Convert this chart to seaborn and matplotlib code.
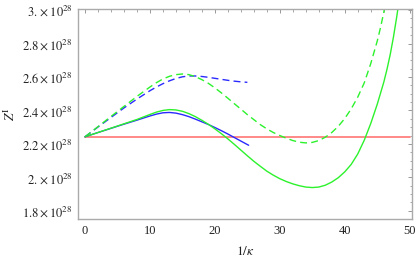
import numpy as np
import pandas as pd
import matplotlib
matplotlib.use("Agg")
import matplotlib.pyplot as plt
from matplotlib.ticker import MultipleLocator, FuncFormatter
import seaborn as sns

SCALE = 1e28

# Green solid
gs_x = [0, 2, 4, 6, 8, 10, 11, 12, 13, 14, 15, 16, 17, 18, 19, 20, 21, 22, 23, 24,
        25, 26, 27, 28, 29, 30, 31, 32, 33, 34, 35, 36, 37, 38, 39, 40, 41, 42, 43,
        44, 45, 46, 46.5, 47, 47.5, 48, 48.3]
gs_y = [2.2425, 2.268, 2.294, 2.320, 2.346, 2.376, 2.390, 2.400, 2.405, 2.403, 2.395,
        2.381, 2.363, 2.341, 2.317, 2.290, 2.261, 2.230, 2.197, 2.163,
        2.129, 2.096, 2.066, 2.037, 2.013, 1.992, 1.975, 1.961, 1.950, 1.942, 1.939,
        1.942, 1.953, 1.972, 1.998, 2.033, 2.078, 2.140, 2.222, 2.322, 2.437, 2.568,
        2.646, 2.735, 2.840, 2.960, 3.040]

# Green dashed
gd_x = [0, 2, 4, 6, 8, 10, 11, 12, 13, 14, 15, 16, 17, 18, 19, 20, 21, 22, 23, 24,
        25, 26, 27, 28, 29, 30, 31, 32, 33, 34, 35, 36, 37, 38, 39, 40, 41, 42, 43,
        44, 45, 45.5, 46, 46.2]
gd_y = [2.2425, 2.303, 2.364, 2.424, 2.484, 2.540, 2.566, 2.588, 2.604, 2.614, 2.618,
        2.614, 2.602, 2.584, 2.562, 2.535, 2.505, 2.473, 2.440, 2.408, 2.375, 2.345,
        2.315, 2.290, 2.268, 2.250, 2.234, 2.220, 2.210, 2.206, 2.209, 2.220, 2.240,
        2.268, 2.305, 2.352, 2.410, 2.480, 2.565, 2.680, 2.815, 2.895, 2.985, 3.030]

# Blue solid
bs_x = [0, 2, 4, 6, 8, 10, 11, 12, 13, 14, 15, 16, 17, 18, 19, 20, 21, 22, 23, 24, 25, 25.2]
bs_y = [2.2425, 2.268, 2.293, 2.318, 2.342, 2.367, 2.378, 2.386, 2.388, 2.384, 2.375,
        2.363, 2.348, 2.332, 2.316, 2.298, 2.279, 2.259, 2.238, 2.217, 2.196, 2.192]

# Blue dashed
bd_x = [0, 2, 4, 6, 8, 10, 11, 12, 13, 14, 15, 16, 17, 18, 19, 20, 21, 22, 23, 24, 25]
bd_y = [2.2425, 2.301, 2.358, 2.415, 2.468, 2.518, 2.540, 2.560, 2.577, 2.591, 2.601,
        2.606, 2.606, 2.603, 2.598, 2.592, 2.586, 2.580, 2.575, 2.571, 2.568]

# Red reference line
red_x = [0, 50]
red_y = [2.2425, 2.2425]

sns.set_style("white")
plt.rcParams["font.family"] = ["Liberation Serif", "DejaVu Serif"]
plt.rcParams["mathtext.fontset"] = "stix"

fig = plt.figure(figsize=(4.17, 2.59), dpi=100)
ax = fig.add_axes([0.187, 0.154, 0.801, 0.811])

def draw(xs, ys, color, ls, lw=1.0):
    df = pd.DataFrame({"x": xs, "y": np.array(ys) * SCALE})
    sns.lineplot(data=df, x="x", y="y", ax=ax, color=color, linestyle=ls,
                 linewidth=lw, estimator=None, sort=False)

draw(red_x, red_y, "#ff7f7f", "-", 1.3)
draw(bs_x, bs_y, "#2a2aff", "-", 1.0)
draw(gs_x, gs_y, "#2cf22c", "-", 1.0)
draw(bd_x, bd_y, "#2a2aff", (0, (5, 3)), 1.0)
draw(gd_x, gd_y, "#2cf22c", (0, (5, 3)), 1.0)

ax.set_xlim(-1.08, 50.35)
ax.set_ylim(1.7504e28, 3.006e28)

ax.xaxis.set_major_locator(MultipleLocator(10))
ax.xaxis.set_minor_locator(MultipleLocator(2))
ax.yaxis.set_major_locator(MultipleLocator(0.2e28))
ax.yaxis.set_minor_locator(MultipleLocator(0.05e28))

def yfmt(v, pos):
    m = v / SCALE
    if abs(m - round(m)) < 1e-9:
        s = "%d." % round(m)
    else:
        s = ("%.1f" % m)
    return r"$%s\times10^{28}$" % s

def xfmt(v, pos):
    return "%d" % round(v)

ax.yaxis.set_major_formatter(FuncFormatter(yfmt))
ax.xaxis.set_major_formatter(FuncFormatter(xfmt))

for sp in ax.spines.values():
    sp.set_visible(True)
    sp.set_color("#aaaaaa")
    sp.set_linewidth(1.0)

ax.tick_params(which="both", direction="in", top=True, right=True,
               color="#999999", labelsize=9, labelcolor="#222222")
ax.tick_params(which="major", length=3.2, width=0.7, pad=4)
ax.tick_params(which="minor", length=1.8, width=0.6)

ax.set_xlabel(r"$1/\kappa$", fontsize=9.5, labelpad=6, color="#222222")
ax.set_ylabel(r"$Z^{\mathrm{I}}$", fontsize=9.5, labelpad=3, color="#222222")
ax.grid(False)

fig.savefig("out.png", dpi=100)
